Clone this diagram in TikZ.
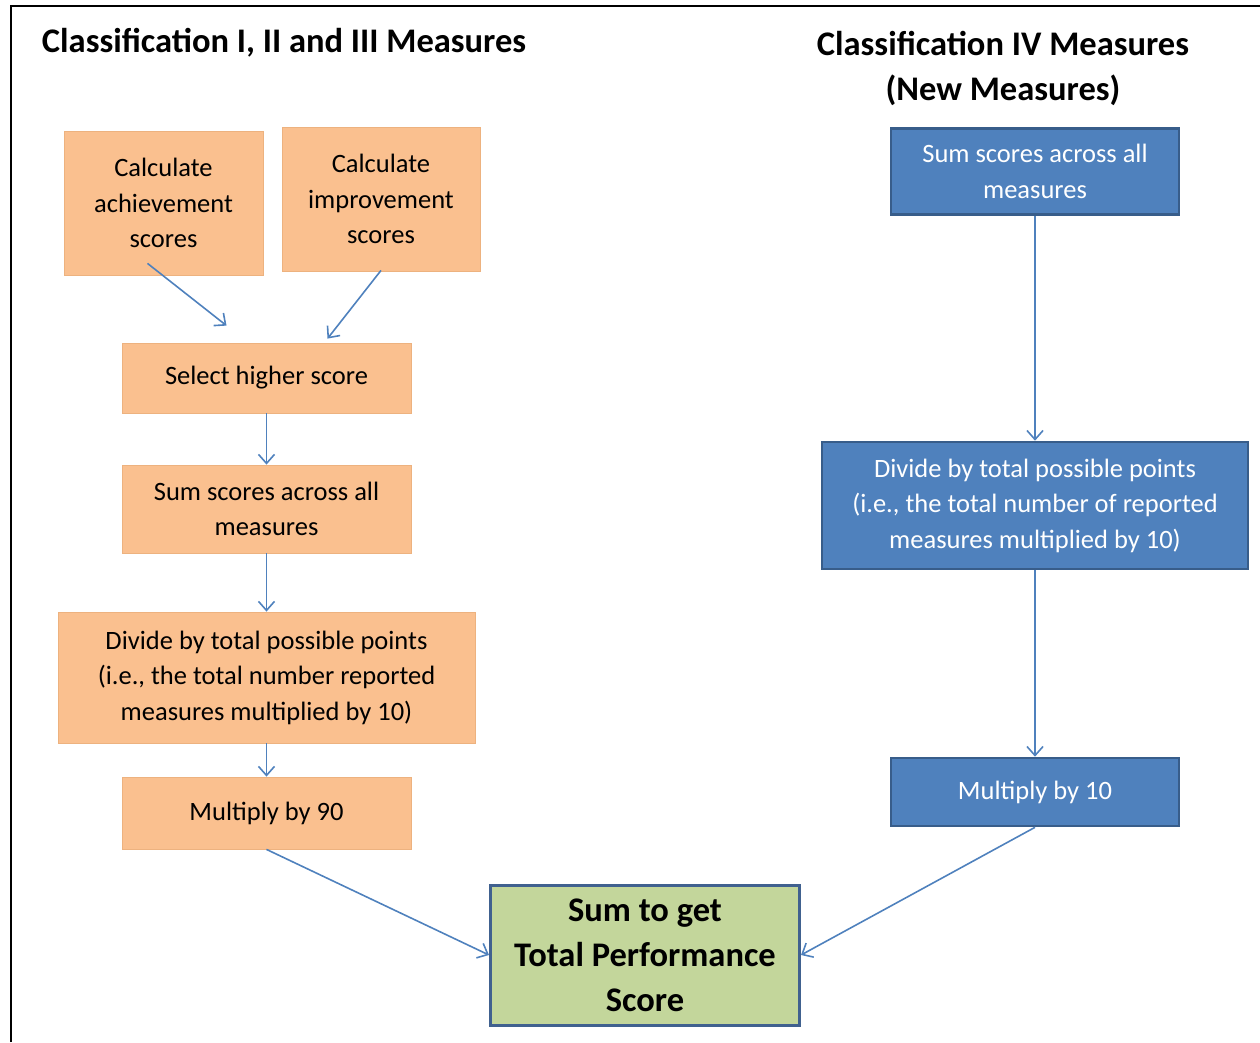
\documentclass[tikz,border=0pt]{standalone}
\usepackage{fontspec}
\setmainfont{Carlito}
\usetikzlibrary{arrows.meta}
\definecolor{peach}{HTML}{FAC08F}
\definecolor{peachedge}{HTML}{EDB27F}
\definecolor{steel}{HTML}{4F81BD}
\definecolor{steeledge}{HTML}{385D8A}
\definecolor{sage}{HTML}{C3D69B}
\definecolor{sageedge}{HTML}{40618F}
\tikzset{
  box/.style={rectangle, align=center, inner sep=0pt, font=\fontsize{26.5}{35.5}\selectfont},
  peachbox/.style={box, fill=peach, draw=peachedge, line width=0.8pt},
  bluebox/.style={box, fill=steel, draw=steeledge, line width=2.6pt, text=white},
  totalbox/.style={rectangle, align=center, inner sep=0pt, fill=sage, draw=sageedge, line width=3pt,
    font=\fontsize{34.5}{45}\selectfont\bfseries},
  heading/.style={align=center, font=\fontsize{34.5}{45}\selectfont\bfseries},
  arr/.style={draw=steel, line width=1.6pt, -{Straight Barb[length=9pt,width=16pt,line width=1.6pt]}}
}
\begin{document}
\begin{tikzpicture}[x=1pt,y=-1pt]
\useasboundingbox (0,0) rectangle (1260,1042);
% frame
\draw[line width=2pt] (11,1042) -- (11,6) -- (1260,6);

% headings
\node[heading] (h1) at (284,43) {Classification I, II and III Measures};
\node[heading] (h2) at (1003,68) {Classification IV Measures\\(New Measures)};

% left column
\node[peachbox, minimum width=199pt, minimum height=144pt] (A) at (163.5,203) {Calculate\\achievement\\scores};
\node[peachbox, minimum width=198pt, minimum height=144pt] (B) at (381,199) {Calculate\\improvement\\scores};
\node[peachbox, minimum width=289pt, minimum height=70pt] (C) at (266.5,378) {Select higher score};
\node[peachbox, minimum width=289pt, minimum height=88pt] (D) at (266.5,509) {Sum scores across all\\measures};
\node[peachbox, minimum width=417pt, minimum height=131pt] (E) at (266.5,677.5) {Divide by total possible points\\(i.e., the total number reported\\measures multiplied by 10)};
\node[peachbox, minimum width=289pt, minimum height=72pt] (F) at (266.5,813) {Multiply by 90};

% right column
\node[bluebox, minimum width=288pt, minimum height=86pt] (G) at (1035,171.5) {Sum scores across all\\measures};
\node[bluebox, minimum width=426pt, minimum height=127pt] (H) at (1035,505.5) {Divide by total possible points\\(i.e., the total number of reported\\measures multiplied by 10)};
\node[bluebox, minimum width=288pt, minimum height=68pt] (I) at (1035,792) {Multiply by 10};

% total
\node[totalbox, minimum width=309pt, minimum height=140pt] (J) at (645,955) {Sum to get\\Total Performance\\Score};

% connectors
\draw[arr] ([xshift=-16pt,yshift=12pt]A.south) -- ([xshift=-40pt,yshift=17pt]C.north);
\draw[arr] ([yshift=1pt]B.south) -- ([xshift=61pt,yshift=4pt]C.north);
\draw[arr] (C.south) -- (D.north);
\draw[arr] (D.south) -- (E.north);
\draw[arr] (E.south) -- (F.north);
\draw[arr] (F.south) -- (J.west);
\draw[arr] (G.south) -- (H.north);
\draw[arr] (H.south) -- (I.north);
\draw[arr] (I.south) -- (J.east);
\end{tikzpicture}
\end{document}
